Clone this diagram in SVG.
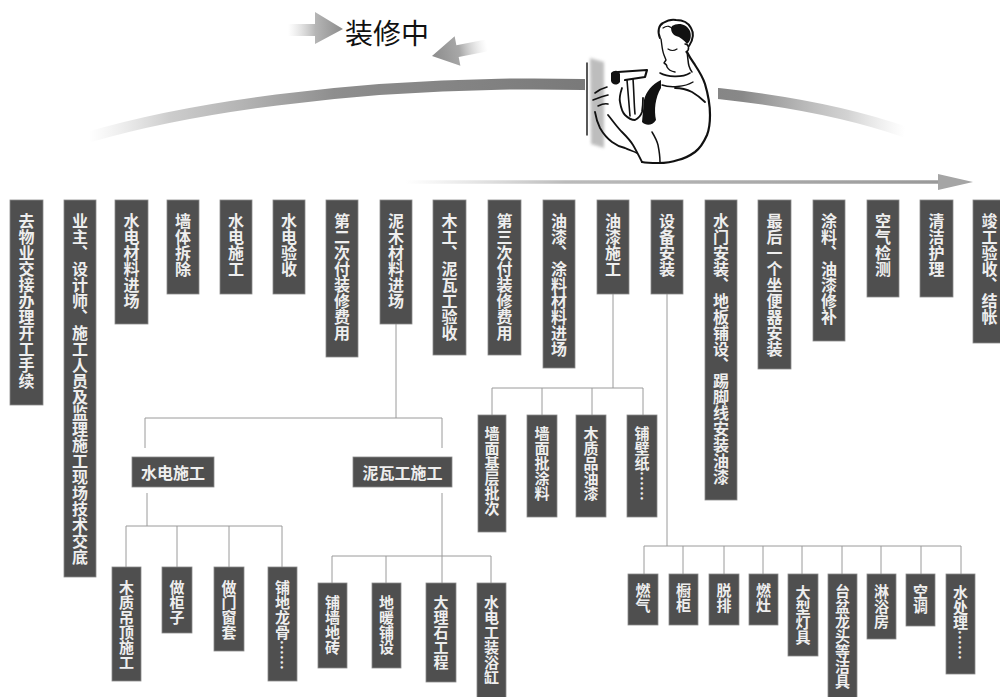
<svg xmlns="http://www.w3.org/2000/svg" width="1000" height="697" viewBox="0 0 1000 697">
  <style>
    .box { fill: #4f4f4f; stroke: #8a8a8a; stroke-width: 0.8; }
    .vt { writing-mode: vertical-rl; font-family: "Noto Sans CJK SC", "Noto Sans", sans-serif; font-weight: 700; fill: #eeeeee; }
    .t16 { font-size: 16px; }
    .t15 { font-size: 15px; }
    .ht { font-family: "Noto Sans CJK SC", "Noto Sans", sans-serif; font-weight: 700; font-size: 16px; fill: #eeeeee; text-anchor: middle; dominant-baseline: central; }
    .conn { stroke: #9a9a9a; stroke-width: 1; fill: none; }
    .ink { stroke: #111; fill: none; stroke-linecap: round; stroke-linejoin: round; }
  </style>
  <defs>
    <linearGradient id="arcGrad" gradientUnits="userSpaceOnUse" x1="89" y1="0" x2="905" y2="0">
      <stop offset="0" stop-color="#bdbdbd" stop-opacity="0"/>
      <stop offset="0.1" stop-color="#aaaaaa" stop-opacity="0.6"/>
      <stop offset="0.3" stop-color="#8e8e8e"/>
      <stop offset="0.6" stop-color="#7a7a7a"/>
      <stop offset="0.8" stop-color="#888888"/>
      <stop offset="0.93" stop-color="#b5b5b5" stop-opacity="0.6"/>
      <stop offset="1" stop-color="#cccccc" stop-opacity="0"/>
    </linearGradient>
    <linearGradient id="lineGrad" gradientUnits="userSpaceOnUse" x1="405" y1="0" x2="940" y2="0">
      <stop offset="0" stop-color="#bbbbbb" stop-opacity="0"/>
      <stop offset="0.3" stop-color="#aaaaaa" stop-opacity="0.8"/>
      <stop offset="1" stop-color="#999999"/>
    </linearGradient>
    <linearGradient id="arrowR" gradientUnits="userSpaceOnUse" x1="288" y1="0" x2="343" y2="0">
      <stop offset="0" stop-color="#cfcfcf" stop-opacity="0"/>
      <stop offset="0.5" stop-color="#b5b5b5"/>
      <stop offset="1" stop-color="#8c8c8c"/>
    </linearGradient>
    <linearGradient id="arrowL" gradientUnits="userSpaceOnUse" x1="0" y1="0" x2="56" y2="0">
      <stop offset="0" stop-color="#8c8c8c"/>
      <stop offset="0.5" stop-color="#a8a8a8"/>
      <stop offset="1" stop-color="#d5d5d5" stop-opacity="0"/>
    </linearGradient>
    <clipPath id="arcClip">
      <rect x="0" y="0" width="585" height="200"/>
      <rect x="718" y="0" width="282" height="200"/>
    </clipPath>
    <filter id="soft" x="-30%" y="-10%" width="160%" height="120%">
      <feGaussianBlur stdDeviation="1.5"/>
    </filter>
  </defs>

  <!-- heading with the two swirl arrows -->
  <g id="title">
    <polygon points="288,24 315,24 315,12 343,29 315,44 315,36 288,36" fill="url(#arrowR)"/>
    <text x="345" y="44" font-family="Noto Sans CJK SC, sans-serif" font-size="28" fill="#111">装修中</text>
    <g transform="translate(432,56) rotate(-11)">
      <polygon points="0,0 26,-15 26,-6 56,-6 56,6 26,6 26,15" fill="url(#arrowL)"/>
    </g>
  </g>

  <!-- progress arc and timeline arrow -->
  <g id="timeline">
    <path d="M89 137 C300 75 700 60 905 132" stroke="url(#arcGrad)" stroke-width="11" fill="none" clip-path="url(#arcClip)"/>
    <line x1="405" y1="182" x2="940" y2="182" stroke="url(#lineGrad)" stroke-width="3.5"/>
    <polygon points="938,174 973,182 938,190" fill="#a5a5a5"/>
  </g>

  <!-- worker with hammer -->
  <g id="worker">
    <!-- wall -->
    <path d="M590 58 L604 62 L604 148 L591 144 Z" fill="#a8a8a8" opacity="0.75" filter="url(#soft)"/>
    <path class="ink" d="M587 63 L587 135" stroke-width="1.4"/>
    <!-- hair -->
    <path class="ink" d="M660 38 C657 31 659 25 663 23 C668 20 672 19 676 20 C682 20 688 22 691 28 C694 33 693 40 689 46" stroke-width="2"/>
    <path d="M672 26 C678 22 687 24 690 31 C692 37 690 42 687 44 C684 40 680 37 676 36 C672 34 670 30 672 26 Z" fill="#111"/>
    <path class="ink" d="M663 28 C667 25 671 26 673 30" stroke-width="1.2"/>
    <path class="ink" d="M685 44 C689 44 690 50 686 52" stroke-width="1.5"/>
    <!-- face -->
    <path class="ink" d="M661 39 C662 45 662 50 664 55 L666 60 L664 63 C666 64 667 66 667 67 C668 69 670 71 675 72" stroke-width="1.4"/>
    <path class="ink" d="M668 49 C671 51 674 51 677 49" stroke-width="1.2"/>
    <path class="ink" d="M687 52 C688 58 688 63 689 66 C690 69 691 71 692 72" stroke-width="1.5"/>
    <!-- collar -->
    <path class="ink" d="M660 73 C667 77 682 78 690 73" stroke-width="1.6"/>
    <path class="ink" d="M662 85 C670 88 685 87 693 82" stroke-width="1.4"/>
    <!-- body outline -->
    <path class="ink" d="M687 52 C690 58 693 62 695 65 C699 71 703 78 705 84 C708 94 710 104 710 115 C710 124 709 130 707 135 C703 144 699 149 695 152 C688 157 683 159 678 160 C670 163 664 163 658 163 C652 163 647 163 642 162" stroke-width="2.2"/>
    <path class="ink" d="M675 88 C683 88 688 90 692 92 C697 95 702 99 705 102" stroke-width="1.8"/>
    <path d="M661 80 C652 84 646 92 644 100 L642 122 C646 126 652 126 656 120 C654 110 655 98 661 88 Z" fill="#111"/>
    <!-- hammer -->
    <path class="ink" d="M618 72 L647 70 L645 77 L625 80" stroke-width="2.2"/>
    <path d="M611 73 C614 70 619 70 620 74 L620 82 C617 86 612 85 611 81 Z" fill="#111"/>
    <path class="ink" d="M627 80 C628 92 629 104 630 116 M633 79 C634 92 634 104 635 114" stroke-width="1.6"/>
    <!-- hand on the handle -->
    <path class="ink" d="M622 88 C620 94 619 98 620 102 C621 108 622 112 625 115 C628 118 632 120 635 120 C639 118 641 115 642 112 C643 106 643 102 643 98" stroke-width="1.8"/>
    <!-- hand at the wall -->
    <path class="ink" d="M595 93 C599 90 603 88 607 87" stroke-width="1.6"/>
    <path class="ink" d="M593 100 C598 98 603 96 608 95" stroke-width="1.6"/>
    <path class="ink" d="M598 106 C602 104 605 103 608 104" stroke-width="1.6"/>
    <path class="ink" d="M595 112 C596 118 598 124 600 128 C604 135 608 139 612 142 C616 145 620 147 625 148 C629 150 633 151 637 153" stroke-width="1.8"/>
    <path class="ink" d="M608 115 C613 121 617 127 622 132 C626 136 630 140 633 145 C636 150 639 156 642 162" stroke-width="1.8"/>
    <path class="ink" d="M652 132 C655 137 657 141 658 145 C659 150 660 156 660 162" stroke-width="1.5"/>
  </g>

  <!-- connectors -->
  <g id="connectors">
    <!-- 泥木材料进场 branch -->
    <path class="conn" d="M396 324 V418 M145 418 H442 M145 418 V448 M442 418 V448"/>
    <!-- 水电施工 branch -->
    <path class="conn" d="M147 493 V526 M126 526 H282 M126 526 V567 M177 526 V567 M229 526 V567 M282 526 V567"/>
    <!-- 泥瓦工施工 branch -->
    <path class="conn" d="M442 493 V583 M332 556 H491 M332 556 V583 M386 556 V583 M491 556 V583"/>
    <!-- 油漆施工 branch -->
    <path class="conn" d="M613 294 V388 M492 388 H643 M492 388 V415 M542 388 V415 M592 388 V415 M643 388 V415"/>
    <!-- 设备安装 branch -->
    <path class="conn" d="M667 294 V546 M644 546 H961 M644 546 V574 M683 546 V574 M724 546 V574 M763 546 V574 M802 546 V574 M842 546 V574 M881 546 V574 M921 546 V574 M961 546 V574"/>
  </g>

  <!-- main sequence of steps -->
  <g id="n1"><rect class="box" x="10" y="200" width="33" height="205"/><text class="vt t16" x="26.5" y="213">去物业交接办理开工手续</text></g>
  <g id="n2"><rect class="box" x="64" y="200" width="32" height="377"/><text class="vt t16" x="80" y="213">业主、设计师、施工人员及监理施工现场技术交底</text></g>
  <g id="n3"><rect class="box" x="115" y="200" width="33" height="124"/><text class="vt t16" x="131.5" y="213">水电材料进场</text></g>
  <g id="n4"><rect class="box" x="167" y="200" width="32" height="94"/><text class="vt t16" x="183" y="213">墙体拆除</text></g>
  <g id="n5"><rect class="box" x="220" y="200" width="32" height="94"/><text class="vt t16" x="236" y="213">水电施工</text></g>
  <g id="n6"><rect class="box" x="273" y="200" width="32" height="94"/><text class="vt t16" x="289" y="213">水电验收</text></g>
  <g id="n7"><rect class="box" x="326" y="200" width="32" height="157"/><text class="vt t16" x="342" y="213">第二次付装修费用</text></g>
  <g id="n8"><rect class="box" x="380" y="200" width="32" height="124"/><text class="vt t16" x="396" y="213">泥木材料进场</text></g>
  <g id="n9"><rect class="box" x="433" y="200" width="33" height="155"/><text class="vt t16" x="449.5" y="213">木工、泥瓦工验收</text></g>
  <g id="n10"><rect class="box" x="488" y="200" width="33" height="155"/><text class="vt t16" x="504.5" y="213">第三次付装修费用</text></g>
  <g id="n11"><rect class="box" x="543" y="200" width="32" height="168"/><text class="vt t16" x="559" y="213">油漆、涂料材料进场</text></g>
  <g id="n12"><rect class="box" x="597" y="200" width="32" height="94"/><text class="vt t16" x="613" y="213">油漆施工</text></g>
  <g id="n13"><rect class="box" x="651" y="200" width="32" height="94"/><text class="vt t16" x="667" y="213">设备安装</text></g>
  <g id="n14"><rect class="box" x="705" y="200" width="32" height="300"/><text class="vt t16" x="721" y="213">水门安装、地板铺设、踢脚线安装油漆</text></g>
  <g id="n15"><rect class="box" x="758" y="200" width="33" height="169"/><text class="vt t16" x="774.5" y="213">最后一个坐便器安装</text></g>
  <g id="n16"><rect class="box" x="813" y="200" width="32" height="141"/><text class="vt t16" x="829" y="213">涂料、油漆修补</text></g>
  <g id="n17"><rect class="box" x="867" y="200" width="32" height="97"/><text class="vt t16" x="883" y="213">空气检测</text></g>
  <g id="n18"><rect class="box" x="920" y="200" width="33" height="97"/><text class="vt t16" x="936.5" y="213">清洁护理</text></g>
  <g id="n19"><rect class="box" x="973" y="200" width="33" height="143"/><text class="vt t16" x="989.5" y="213">竣工验收、结帐</text></g>

  <!-- 泥木 sub-stages -->
  <g id="h1"><rect class="box" x="132" y="457" width="82" height="30"/><text class="ht" x="173" y="472">水电施工</text></g>
  <g id="h2"><rect class="box" x="353" y="457" width="99" height="30"/><text class="ht" x="402.5" y="472">泥瓦工施工</text></g>

  <g id="b1"><rect class="box" x="112" y="567" width="29" height="114"/><text class="vt t15" x="126.5" y="580">木质吊顶施工</text></g>
  <g id="b2"><rect class="box" x="162" y="567" width="30" height="66"/><text class="vt t15" x="177" y="580">做柜子</text></g>
  <g id="b3"><rect class="box" x="214" y="567" width="30" height="84"/><text class="vt t15" x="229" y="580">做门窗套</text></g>
  <g id="b4"><rect class="box" x="268" y="567" width="29" height="114"/><text class="vt t15" x="282.5" y="580">铺地龙骨……</text></g>
  <g id="b5"><rect class="box" x="318" y="583" width="29" height="85"/><text class="vt t15" x="332.5" y="595">铺墙地砖</text></g>
  <g id="b6"><rect class="box" x="372" y="583" width="29" height="85"/><text class="vt t15" x="386.5" y="595">地暖铺设</text></g>
  <g id="b7"><rect class="box" x="426" y="583" width="30" height="99"/><text class="vt t15" x="441" y="595">大理石工程</text></g>
  <g id="b8"><rect class="box" x="477" y="583" width="29" height="120"/><text class="vt t15" x="491.5" y="595">水电工装浴缸</text></g>

  <!-- 油漆 sub-stages -->
  <g id="m1"><rect class="box" x="478" y="415" width="28" height="117"/><text class="vt t15" x="492" y="426">墙面基层批次</text></g>
  <g id="m2"><rect class="box" x="527" y="415" width="30" height="102"/><text class="vt t15" x="542" y="426">墙面批涂料</text></g>
  <g id="m3"><rect class="box" x="576" y="415" width="30" height="102"/><text class="vt t15" x="591" y="426">木质品油漆</text></g>
  <g id="m4"><rect class="box" x="627" y="415" width="30" height="102"/><text class="vt t15" x="642" y="426">铺壁纸……</text></g>

  <!-- 设备安装 items -->
  <g id="e1"><rect class="box" x="628" y="574" width="30" height="51"/><text class="vt t15" x="643" y="583">燃气</text></g>
  <g id="e2"><rect class="box" x="669" y="574" width="29" height="51"/><text class="vt t15" x="683.5" y="583">橱柜</text></g>
  <g id="e3"><rect class="box" x="709" y="574" width="30" height="51"/><text class="vt t15" x="724" y="583">脱排</text></g>
  <g id="e4"><rect class="box" x="749" y="574" width="29" height="51"/><text class="vt t15" x="763.5" y="583">燃灶</text></g>
  <g id="e5"><rect class="box" x="788" y="574" width="30" height="82"/><text class="vt t15" x="803" y="585">大型灯具</text></g>
  <g id="e6"><rect class="box" x="828" y="574" width="29" height="130"/><text class="vt t15" x="842.5" y="584">台盆龙头等洁具</text></g>
  <g id="e7"><rect class="box" x="867" y="574" width="29" height="65"/><text class="vt t15" x="881.5" y="584">淋浴房</text></g>
  <g id="e8"><rect class="box" x="906" y="574" width="29" height="52"/><text class="vt t15" x="920.5" y="584">空调</text></g>
  <g id="e9"><rect class="box" x="946" y="574" width="29" height="100"/><text class="vt t15" x="960.5" y="585">水处理……</text></g>
</svg>
